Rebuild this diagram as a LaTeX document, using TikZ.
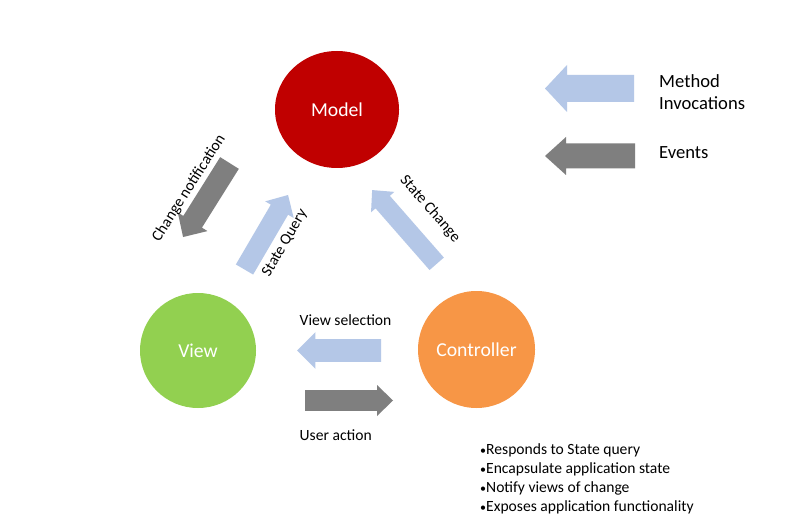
\documentclass[tikz,border=0pt]{standalone}
\usepackage{fontspec}
\setmainfont{Carlito}
\usetikzlibrary{shapes.geometric}
\definecolor{modelred}{RGB}{192,0,0}
\definecolor{viewgreen}{RGB}{146,208,80}
\definecolor{ctrlorange}{RGB}{247,150,70}
\definecolor{arrblue}{RGB}{180,199,231}
\definecolor{arrgray}{RGB}{127,127,127}
% #1 tail x, #2 tail y, #3 angle, #4 length, #5 body half, #6 head half, #7 head length, #8 colour
\newcommand{\blockarr}[8]{%
  \begin{scope}[shift={(#1,#2)},rotate=#3]
    \fill[#8] (0,-#5) -- ({#4-#7},-#5) -- ({#4-#7},-#6) -- (#4,0) -- ({#4-#7},#6) -- ({#4-#7},#5) -- (0,#5) -- cycle;
  \end{scope}}
\newcommand{\smbul}{{\fontsize{12}{12}\selectfont\textbullet}}
\tikzset{
  bubble/.style={ellipse, inner sep=0pt, text=white, font=\fontsize{19.7}{23}\selectfont},
  lbl/.style={inner sep=0pt, font=\fontsize{15.6}{19}\selectfont},
  legendtxt/.style={inner sep=0pt, anchor=west, align=left, font=\fontsize{18.6}{23}\selectfont},
}
\begin{document}
\begin{tikzpicture}[x=1pt,y=-1pt]
\useasboundingbox[fill=white] (0,0) rectangle (802,521);

% circles
\node[bubble, fill=modelred, minimum width=124pt, minimum height=117pt] (model) at (337,109.5) {Model};
\node[bubble, fill=viewgreen, minimum width=116pt, minimum height=115pt] (view) at (198,350.5) {View};
\node[bubble, fill=ctrlorange, minimum width=117pt, minimum height=117pt] (ctrl) at (476.5,349.5) {Controller};

% legend
\blockarr{634}{88.5}{180}{89}{13.5}{23.5}{22}{arrblue}
\blockarr{635}{156}{180}{90}{12.5}{19}{21}{arrgray}
\node[legendtxt] (legmethod) at (659,92) {Method\\[-1pt]Invocations};
\node[legendtxt] (legevents) at (659,153) {Events};

% model <-> view
\blockarr{229.5}{163}{-122.1}{87.4}{11}{17.5}{18}{arrgray}
\node[lbl, rotate=57.5] (chg) at (189,188) {Change notification};
\blockarr{244.5}{269.5}{59.7}{86.3}{10}{16.5}{17}{arrblue}
\node[lbl, rotate=59.7] (sq) at (285,243) {State Query};

% controller -> model
\blockarr{436.7}{263.8}{131.2}{98}{9.5}{15.5}{16}{arrblue}
\node[lbl, rotate=-48.8] (sc) at (430,209) {State Change};

% view <-> controller
\blockarr{381}{350.5}{180}{84}{11.3}{18.3}{18.3}{arrblue}
\node[lbl, anchor=west] (vsel) at (299.5,320) {View selection};
\blockarr{305}{400.5}{0}{88}{10.3}{15.5}{16}{arrgray}
\node[lbl, anchor=west] (uact) at (299.5,435) {User action};

% controller notes
\node[lbl, anchor=north west, align=left, font=\fontsize{15.6}{19.3}\selectfont] (notes) at (480,443) {%
\smbul Responds to State query\\
\smbul Encapsulate application state\\
\smbul Notify views of change\\
\smbul Exposes application functionality};
\end{tikzpicture}
\end{document}
